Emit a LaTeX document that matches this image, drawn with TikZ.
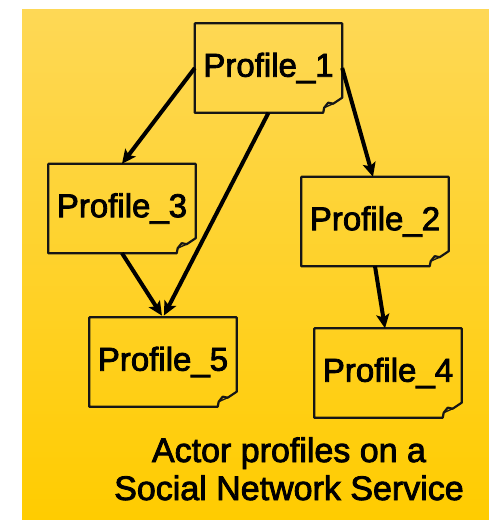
\documentclass[tikz,border=0pt]{standalone}
\usepackage{fontspec}
\setmainfont{Liberation Sans}
\newfontfamily\labelfont{Liberation Sans}[FakeBold=2.5]
\usetikzlibrary{arrows.meta,calc}
\definecolor{bgtop}{RGB}{254,216,86}
\definecolor{bgbot}{RGB}{255,204,0}
\definecolor{ink}{RGB}{22,22,22}
\tikzset{
  profile/.style={minimum width=147pt,minimum height=89pt,inner sep=0pt,
    font=\labelfont\fontsize{33}{38}\selectfont},
  outline/.style={draw=ink,line width=2.2pt,line join=round},
  link/.style={draw=black,line width=4pt,
    -{Stealth[length=14pt,width=13pt,inset=3pt]}},
  caption/.style={font=\labelfont\fontsize{34}{38}\selectfont,anchor=base,inner sep=0pt}
}
% sticky-note frame with a curled bottom-right corner
\newcommand\noteframe[1]{%
  \draw[outline]
    ([xshift=-19pt]#1.south east) -- (#1.south west) -- (#1.north west)
    -- (#1.north east) -- ([yshift=15pt]#1.south east)
    -- ([shift={(-9pt,9pt)}]#1.south east)
    -- ([shift={(-14pt,10pt)}]#1.south east)
    -- ([shift={(-18pt,5pt)}]#1.south east) -- cycle;
  \draw[outline,line width=1.3pt]
    ([shift={(-18pt,5pt)}]#1.south east) -- ([shift={(-9pt,9pt)}]#1.south east);
}
\begin{document}
\begin{tikzpicture}[x=1pt,y=-1pt]
  \useasboundingbox (0,0) rectangle (489,520);
  \fill[white] (0,0) rectangle (489,520);
  \shade[top color=bgtop,bottom color=bgbot] (22,9) rectangle (489,520);

  \node[profile] (p1) at (268.5,68) {Profile\_1};
  \node[profile] (p3) at (122,208.5) {Profile\_3};
  \node[profile] (p2) at (375,221.5) {Profile\_2};
  \node[profile] (p5) at (163,362) {Profile\_5};
  \node[profile] (p4) at (388,373) {Profile\_4};

  \foreach \n in {p1,p2,p3,p4,p5} {\noteframe{\n}}

  \draw[link] (p1.west) -- (p3.north);
  \draw[link,shorten >=2pt] (p1.south) -- (p5.north);
  \draw[link] (p1.east) -- ([xshift=-2pt]p2.north);
  \draw[link,shorten >=2pt] (p3.south) -- (p5.north);
  \draw[link] (p2.south) -- ([xshift=-3pt]p4.north);

  \node[caption] (cap1) at (289,462) {Actor profiles on a};
  \node[caption] (cap2) at (289,500) {Social Network Service};
\end{tikzpicture}
\end{document}
